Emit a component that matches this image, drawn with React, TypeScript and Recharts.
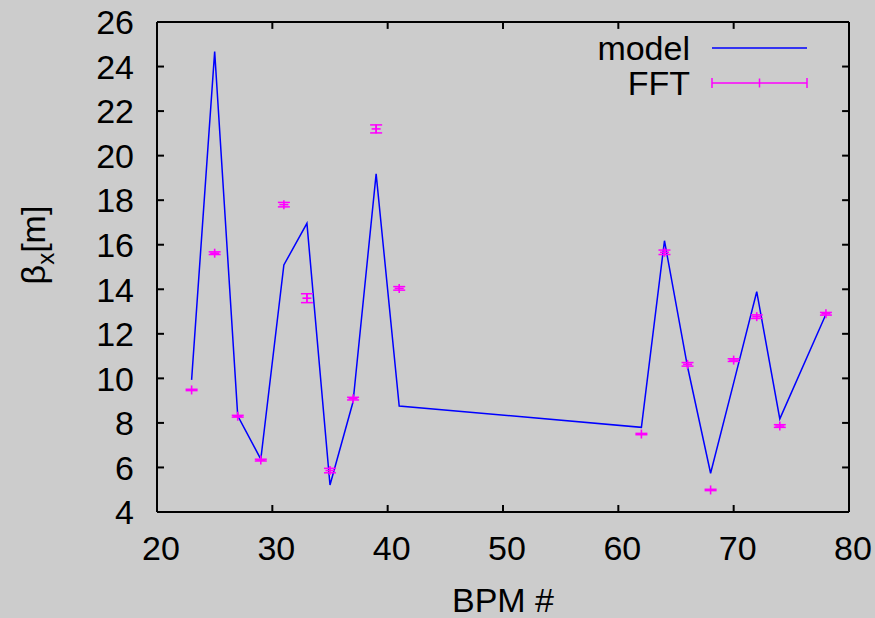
import {
  ComposedChart,
  Line,
  Scatter,
  ErrorBar,
  XAxis,
  YAxis,
  ReferenceLine,
  CartesianGrid,
} from "recharts";

const BPM = [23, 25, 27, 29, 31, 33, 35, 37, 39, 41, 62, 64, 66, 68, 70, 72, 74, 78];
const MODEL = [9.93, 24.67, 8.32, 6.37, 15.09, 16.96, 5.21, 8.95, 19.18, 8.76, 7.8, 16.18, 10.52, 5.74, 9.8, 13.89, 8.18, 12.88];
const FFT = [9.48, 15.62, 8.3, 6.33, 17.8, 13.6, 5.86, 9.09, 21.2, 14.04, 7.5, 15.66, 10.63, 4.99, 10.82, 12.77, 7.86, 12.9];
const FFT_ERR = [0.03, 0.06, 0.04, 0.04, 0.1, 0.2, 0.1, 0.06, 0.18, 0.08, 0.03, 0.1, 0.08, 0.03, 0.06, 0.08, 0.06, 0.06];

const X_TICKS = [20, 30, 40, 50, 60, 70, 80];
const Y_TICKS = [4, 6, 8, 10, 12, 14, 16, 18, 20, 22, 24, 26];
const X_MIN = 20;
const X_MAX = 80;
const Y_MIN = 4;
const Y_MAX = 26;

const data = BPM.map((b, i) => ({ bpm: b, model: MODEL[i], fft: FFT[i], err: FFT_ERR[i] }));

const FONT = "'Liberation Sans', Arial, sans-serif";
const FS = 34;
const BLUE = "#0000ff";
const MAGENTA = "#ff00ff";
const TICK = 7;
// mirror ticks, in data units, kept just inside the domain (~7px long)
const EDGE_X = 0.04;
const EDGE_Y = 0.02;
const TICK_DX = 0.6;
const TICK_DY = 0.31;

// gnuplot-style ticks: drawn inward, label outside
function LeftTick(props: any) {
  const { x, y, payload } = props;
  return (
    <g>
      <line x1={x} y1={y} x2={x + TICK} y2={y} stroke="#000" strokeWidth={2} />
      <text x={x - 23} y={y} dy="0.36em" textAnchor="end" fontSize={FS} fontFamily={FONT} fill="#000">
        {payload.value}
      </text>
    </g>
  );
}

function BottomTick(props: any) {
  const { x, y, payload } = props;
  return (
    <g>
      <line x1={x} y1={y} x2={x} y2={y - TICK} stroke="#000" strokeWidth={2} />
      <text x={x + 4} y={y + 48} textAnchor="middle" fontSize={FS} fontFamily={FONT} fill="#000">
        {payload.value}
      </text>
    </g>
  );
}

function Plus(props: any) {
  const { cx, cy } = props;
  if (cx == null || cy == null) return null;
  return (
    <g stroke={MAGENTA} strokeWidth={1.6}>
      <line x1={cx - 4.5} y1={cy} x2={cx + 4.5} y2={cy} />
      <line x1={cx} y1={cy - 4.5} x2={cx} y2={cy + 4.5} />
    </g>
  );
}

// axis titles and key, drawn over the chart
function Overlay() {
  return (
    <svg
      width={875}
      height={618}
      style={{ position: "absolute", left: 0, top: 0, pointerEvents: "none" }}
    >
      <text x={503} y={612} textAnchor="middle" fontSize={FS} fontFamily={FONT} fill="#000">
        BPM #
      </text>
      <text
        x={0}
        y={0}
        transform="translate(45, 245) rotate(-90)"
        textAnchor="middle"
        fontSize={FS}
        fontFamily={FONT}
        fill="#000"
      >
        β<tspan fontSize={24} dy={9}>x</tspan>
        <tspan dy={-9}>[m]</tspan>
      </text>
      <text x={690} y={60} textAnchor="end" fontSize={FS} fontFamily={FONT} fill="#000">
        model
      </text>
      <line x1={712} y1={48} x2={807} y2={48} stroke={BLUE} strokeWidth={1.5} />
      <text x={690} y={95} textAnchor="end" fontSize={FS} fontFamily={FONT} fill="#000">
        FFT
      </text>
      <g stroke={MAGENTA} strokeWidth={1.5}>
        <line x1={712} y1={83} x2={807} y2={83} />
        <line x1={712} y1={78} x2={712} y2={88} />
        <line x1={807} y1={78} x2={807} y2={88} />
        <line x1={759.5} y1={78.5} x2={759.5} y2={87.5} />
      </g>
    </svg>
  );
}

export default function App() {
  return (
    <div
      style={{
        position: "absolute",
        left: 0,
        top: 0,
        width: 875,
        height: 618,
        background: "#cccccc",
      }}
    >
      <ComposedChart
        width={875}
        height={618}
        data={data}
        margin={{ top: 22, right: 26, left: 0, bottom: 0 }}
      >
        {/* top and right border of the frame */}
        <CartesianGrid
          stroke="#000"
          strokeWidth={2}
          horizontalValues={[Y_MAX]}
          verticalValues={[X_MAX]}
        />
        <XAxis
          dataKey="bpm"
          type="number"
          domain={[X_MIN, X_MAX]}
          ticks={X_TICKS}
          height={106}
          tickSize={0}
          tickMargin={0}
          tickLine={false}
          axisLine={{ stroke: "#000", strokeWidth: 2 }}
          tick={<BottomTick />}
        />
        <YAxis
          type="number"
          domain={[Y_MIN, Y_MAX]}
          ticks={Y_TICKS}
          width={157}
          tickSize={0}
          tickMargin={0}
          tickLine={false}
          axisLine={{ stroke: "#000", strokeWidth: 2 }}
          tick={<LeftTick />}
        />
        {X_TICKS.slice(1, -1).map((t) => (
          <ReferenceLine
            key={`tx${t}`}
            segment={[
              { x: t, y: Y_MAX - EDGE_Y },
              { x: t, y: Y_MAX - TICK_DY },
            ]}
            stroke="#000"
            strokeWidth={2}
          />
        ))}
        {Y_TICKS.slice(1, -1).map((t) => (
          <ReferenceLine
            key={`ty${t}`}
            segment={[
              { x: X_MAX - EDGE_X, y: t },
              { x: X_MAX - TICK_DX, y: t },
            ]}
            stroke="#000"
            strokeWidth={2}
          />
        ))}
        <Line
          dataKey="model"
          name="model"
          type="linear"
          stroke={BLUE}
          strokeWidth={1.5}
          dot={false}
          activeDot={false}
          isAnimationActive={false}
        />
        <Scatter dataKey="fft" name="FFT" fill={MAGENTA} shape={<Plus />} isAnimationActive={false}>
          <ErrorBar dataKey="err" direction="y" width={6} stroke={MAGENTA} strokeWidth={1.5} />
        </Scatter>
      </ComposedChart>
      <Overlay />
    </div>
  );
}
